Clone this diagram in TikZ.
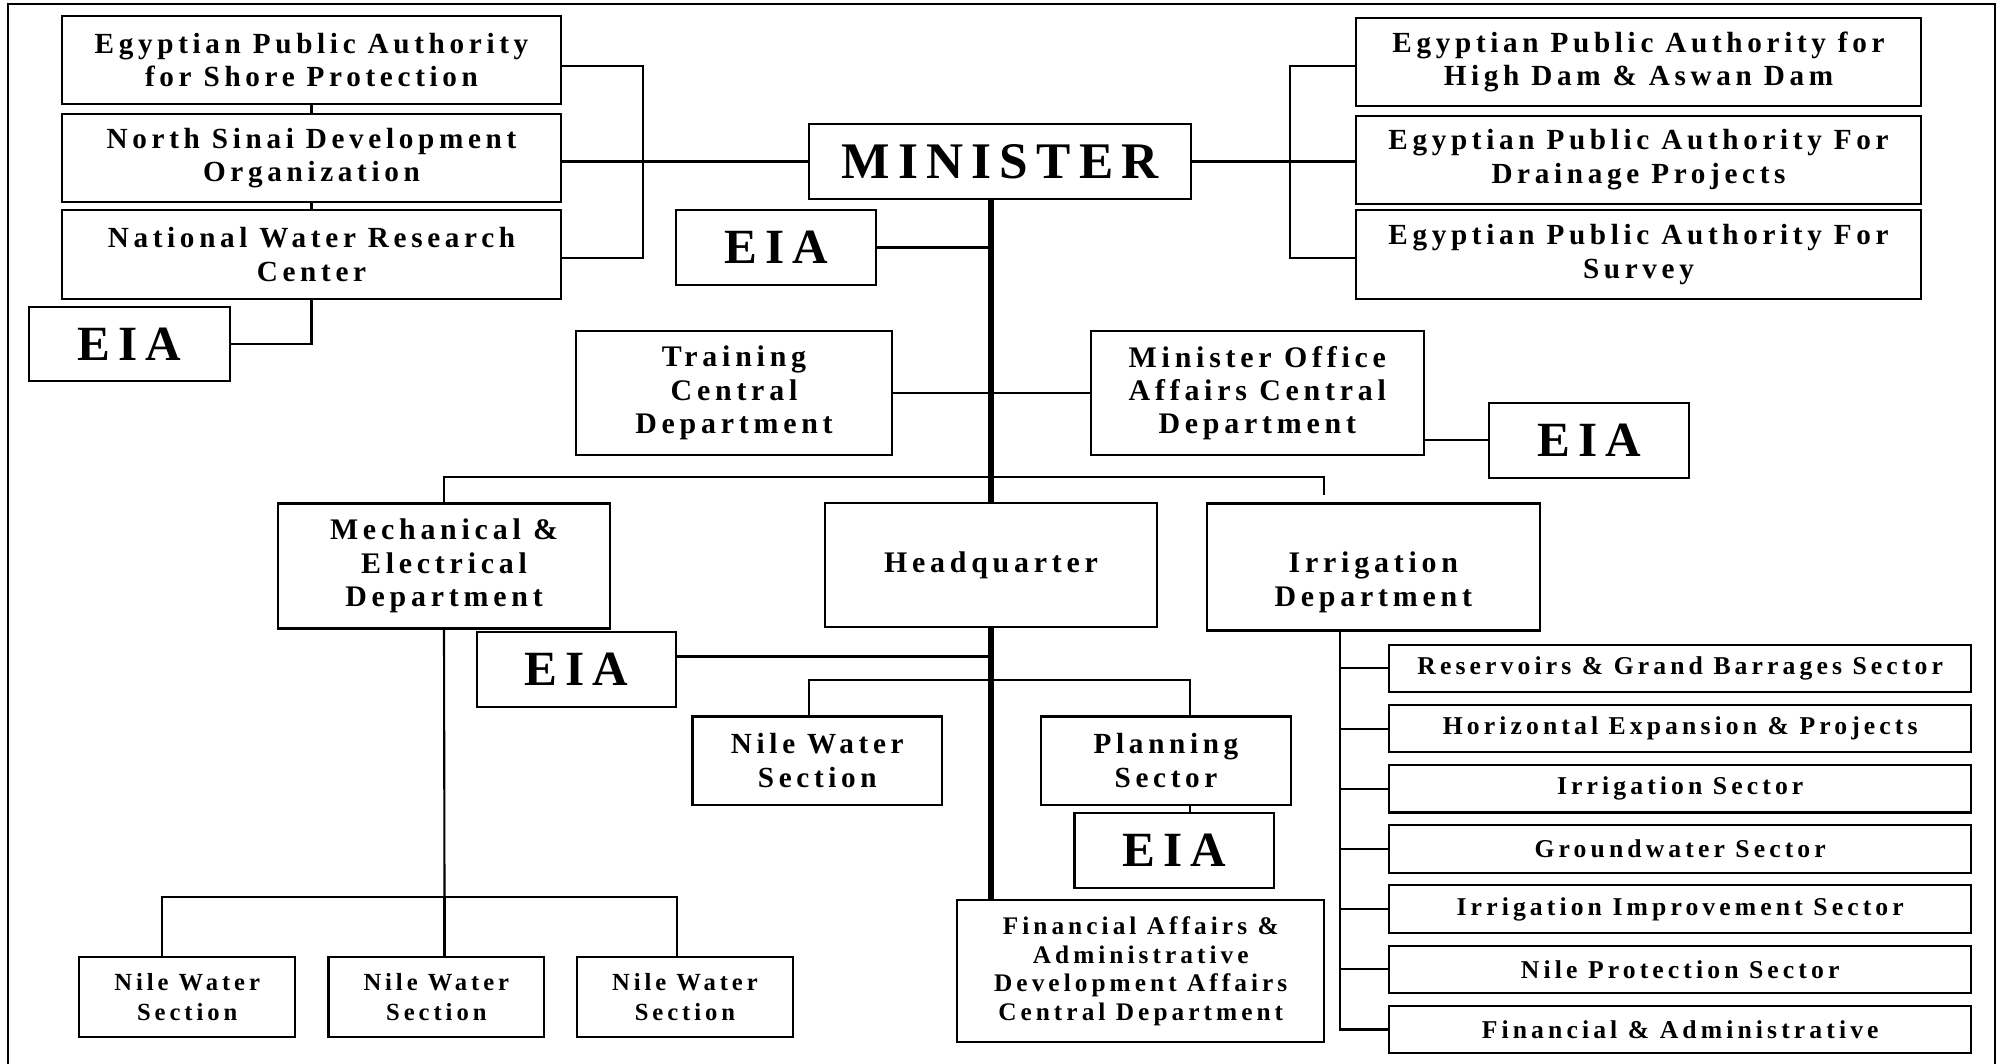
\documentclass[tikz,border=0pt]{standalone}
\usepackage{fontspec}
\setmainfont{Liberation Serif}[LetterSpace=16]
\tikzstyle{link} = [line width=0.6pt]
\tikzstyle{spine} = [line width=1.5pt]

\begin{document}
\begin{tikzpicture}[x=0.01cm, y=-0.01cm,
		unit/.style={
			rectangle,
			draw,
			line width=0.6pt,
			inner sep=0pt,
			font=\bfseries\fontsize{8.3}{9.5}\selectfont,
			align=center},
		dept/.style={unit, font=\bfseries\fontsize{8.5}{9.5}\selectfont},
		eia/.style={unit, font=\bfseries\fontsize{14}{16}\selectfont, minimum width=2cm, minimum height=0.75cm},
		sector/.style={unit, font=\bfseries\fontsize{7.3}{9}\selectfont, minimum width=5.82cm, minimum height=0.475cm}]

		\useasboundingbox (0,0) rectangle (1997,1064);
		\draw[line width=0.6pt] (7.7,1064) -- (7.7,4) -- (1995,4) -- (1995,1064);

		\node (minister) [unit, minimum width=3.82cm, minimum height=0.744cm, font=\bfseries\fontsize{14.6}{17}\selectfont] at (1000,161.5) {MINISTER};

		\node (shore) [unit, minimum width=4.98cm, minimum height=0.886cm] at (311.5,60) {Egyptian Public Authority\\for Shore Protection};
		\node (sinai) [unit, below of=shore, node distance=0.98cm, minimum width=4.98cm, minimum height=0.883cm] {North Sinai Development\\Organization};
		\node (nwrc) [unit, below of=sinai, node distance=0.963cm, minimum width=4.98cm, minimum height=0.89cm] {National Water Research\\Center};
		\node (eiaL) [eia, minimum width=2.006cm, minimum height=0.743cm] at (129.3,343.8) {EIA};

		\node (highdam) [unit, minimum width=5.65cm, minimum height=0.883cm] at (1638.5,61.9) {Egyptian Public Authority for\\High Dam \& Aswan Dam};
		\node (drainage) [unit, below of=highdam, node distance=0.978cm, minimum width=5.65cm, minimum height=0.88cm] {Egyptian Public Authority For\\Drainage Projects};
		\node (survey) [unit, below of=drainage, node distance=0.948cm, minimum width=5.65cm, minimum height=0.89cm] {Egyptian Public Authority For\\Survey};

		\node (eiaT) [eia] at (776,247.5) {EIA};
		\node (training) [dept, minimum width=3.15cm, minimum height=1.243cm] at (734,393.2) {Training\\Central\\Department};
		\node (office) [dept, minimum width=3.326cm, minimum height=1.243cm] at (1257.3,393.2) {Minister Office\\Affairs Central\\Department};
		\node (eiaR) [eia] at (1589,440.2) {EIA};

		\node (mech) [dept, minimum width=3.32cm, minimum height=1.25cm] at (444,566) {Mechanical \&\\Electrical\\Department};
		\node (hq) [dept, minimum width=3.32cm, minimum height=1.233cm] at (991,565) {Headquarter};
		\node (irr) [dept, minimum width=3.325cm, minimum height=1.27cm] at (1373.3,567) {\mbox{}\\[1.8mm]Irrigation\\Department};

		\node (eiaM) [eia, minimum width=1.99cm, minimum height=0.745cm] at (576.5,669.3) {EIA};
		\node (nwsM) [unit, minimum width=2.494cm, minimum height=0.883cm] at (817.3,760.7) {Nile Water\\Section};
		\node (planning) [unit, minimum width=2.5cm, minimum height=0.883cm] at (1166,760.7) {Planning\\Sector};
		\node (eiaB) [eia, minimum width=1.995cm, minimum height=0.748cm] at (1174.3,850.2) {EIA};
		\node (finance) [unit, minimum width=3.667cm, minimum height=1.423cm, font=\bfseries\fontsize{7.2}{8.1}\selectfont] at (1140.7,971.2) {Financial Affairs \&\\Administrative\\Development Affairs\\Central Department};

		\node (nws1) [unit, minimum width=2.163cm, minimum height=0.793cm, font=\bfseries\fontsize{7}{8.3}\selectfont] at (187.2,997) {Nile Water\\Section};
		\node (nws2) [unit, right of=nws1, node distance=2.49cm, minimum width=2.156cm, minimum height=0.793cm, font=\bfseries\fontsize{7}{8.3}\selectfont] {Nile Water\\Section};
		\node (nws3) [unit, right of=nws2, node distance=2.484cm, minimum width=2.162cm, minimum height=0.793cm, font=\bfseries\fontsize{7}{8.3}\selectfont] {Nile Water\\Section};

		\node (sec1) [sector] at (1680.2,668.4) {Reservoirs \& Grand Barrages Sector};
		\node (sec2) [sector, below of=sec1, node distance=0.6015cm] {Horizontal Expansion \& Projects};
		\node (sec3) [sector, below of=sec2, node distance=0.6015cm] {Irrigation Sector};
		\node (sec4) [sector, below of=sec3, node distance=0.6015cm] {Groundwater Sector};
		\node (sec5) [sector, below of=sec4, node distance=0.6015cm] {Irrigation Improvement Sector};
		\node (sec6) [sector, below of=sec5, node distance=0.6015cm] {Nile Protection Sector};
		\node (sec7) [sector, below of=sec6, node distance=0.6015cm] {Financial \& Administrative};

		\coordinate (lbr) at (643,258.3);
		\coordinate (rbr) at (1290.4,258.3);
		\coordinate (bar) at (990,476.7);
		\coordinate (irrdrop) at (1323.6,495);
		\coordinate (ndrop) at (808.7,680.3);
		\coordinate (pdrop) at (1190.4,680.3);
		\coordinate (mbar) at (444.5,897.2);
		\coordinate (itrunk) at (1340,630.6);

		% ministry authorities
		\draw[link] (shore.south) -- (sinai.north);
		\draw[link] (sinai.south) -- (nwrc.north);
		\draw[link] (nwrc.south) |- (eiaL.east);
		\draw[link] ([yshift=-0.57mm]shore.east) -| (lbr) -- (lbr -| nwrc.east);
		\draw[link] (minister.west) -- (minister.west -| sinai.east);
		\draw[link] ([yshift=-0.38mm]highdam.west) -| (rbr) -- (rbr -| survey.west);
		\draw[link] (minister.east) -- (minister.east -| drainage.west);

		% central line
		\draw[spine] (hq.north |- minister.south) -- (hq.north);
		\draw[spine] (hq.south) -- (hq.south |- finance.north);
		\draw[link] (eiaT.east) -- (eiaT.east -| hq.north);
		\draw[link] (training.east) -- (office.west);
		\draw[link] (eiaR.west) -- (eiaR.west -| office.east);
		\draw[link] (mech.north) |- (bar) -| (irrdrop);

		% headquarter
		\draw[link] ([yshift=1.28mm]eiaM.east) coordinate (eiaMc) -- (eiaMc -| hq.south);
		\draw[link] (nwsM.north -| ndrop) -- (ndrop) -- (pdrop) -- (pdrop |- planning.north);
		\draw[link] (pdrop |- planning.south) -- (pdrop |- eiaB.north);

		% mechanical
		\draw[link] (mech.south) -- (mbar);
		\draw[link] (nws2.north -| mbar) -- (mbar);
		\draw[link] ([xshift=-2.5mm]nws1.north) |- (mbar) -| ([xshift=-0.8mm]nws3.north);

		% irrigation
		\draw[link] (itrunk) |- (sec7.west);
		\draw[link] (sec1.west) -- (sec1.west -| itrunk);
		\draw[link] (sec2.west) -- (sec2.west -| itrunk);
		\draw[link] (sec3.west) -- (sec3.west -| itrunk);
		\draw[link] (sec4.west) -- (sec4.west -| itrunk);
		\draw[link] (sec5.west) -- (sec5.west -| itrunk);
		\draw[link] (sec6.west) -- (sec6.west -| itrunk);
	\end{tikzpicture}
\end{document}
